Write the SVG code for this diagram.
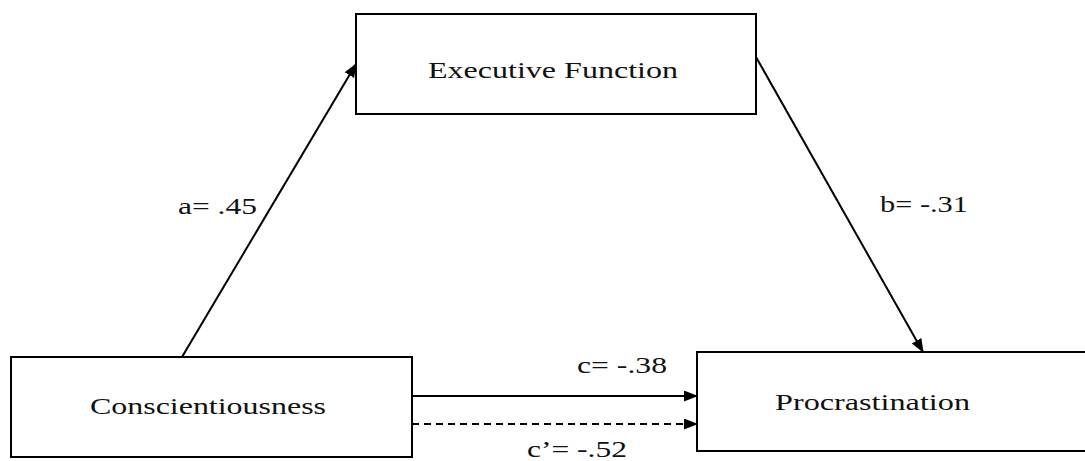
<svg xmlns="http://www.w3.org/2000/svg" width="1085" height="461" viewBox="0 0 1085 461">
<style>
.box{fill:#fff;stroke:#000;stroke-width:2}
.lbl{font-family:"Liberation Serif","Times New Roman",serif;font-size:24px;fill:#111}
.edge{stroke:#000;stroke-width:2;fill:none}
.dash{stroke-dasharray:7 5}
</style>
<defs>
<marker id="ah" markerUnits="userSpaceOnUse" markerWidth="14" markerHeight="12" refX="13" refY="5.5" orient="auto">
<path d="M0,0 L14,5.5 L0,11 z" fill="#000"/>
</marker>
</defs>
<rect width="1085" height="461" fill="#fff"/>
<g id="edges">
<line class="edge" x1="182" y1="357" x2="356" y2="64" marker-end="url(#ah)"/>
<line class="edge" x1="756" y1="57" x2="923" y2="352" marker-end="url(#ah)"/>
<line class="edge" x1="412" y1="396" x2="697" y2="396" marker-end="url(#ah)"/>
<line class="edge dash" x1="412" y1="424" x2="697" y2="424" marker-end="url(#ah)"/>
<text class="lbl" x="178" y="214" textLength="79" lengthAdjust="spacingAndGlyphs">a= .45</text>
<text class="lbl" x="880" y="212" textLength="88" lengthAdjust="spacingAndGlyphs">b= -.31</text>
<text class="lbl" x="577" y="373" textLength="90" lengthAdjust="spacingAndGlyphs">c= -.38</text>
<text class="lbl" x="527" y="457" textLength="100" lengthAdjust="spacingAndGlyphs">c’= -.52</text>
</g>
<g id="executive">
<rect class="box" x="356" y="14" width="400" height="100"/>
<text class="lbl" x="428" y="78" textLength="250" lengthAdjust="spacingAndGlyphs">Executive Function</text>
</g>
<g id="conscientiousness">
<rect class="box" x="11" y="357" width="401" height="100"/>
<text class="lbl" x="90" y="414" textLength="236" lengthAdjust="spacingAndGlyphs">Conscientiousness</text>
</g>
<g id="procrastination">
<rect class="box" x="697" y="352" width="400" height="99"/>
<text class="lbl" x="775" y="410" textLength="195" lengthAdjust="spacingAndGlyphs">Procrastination</text>
</g>
</svg>
